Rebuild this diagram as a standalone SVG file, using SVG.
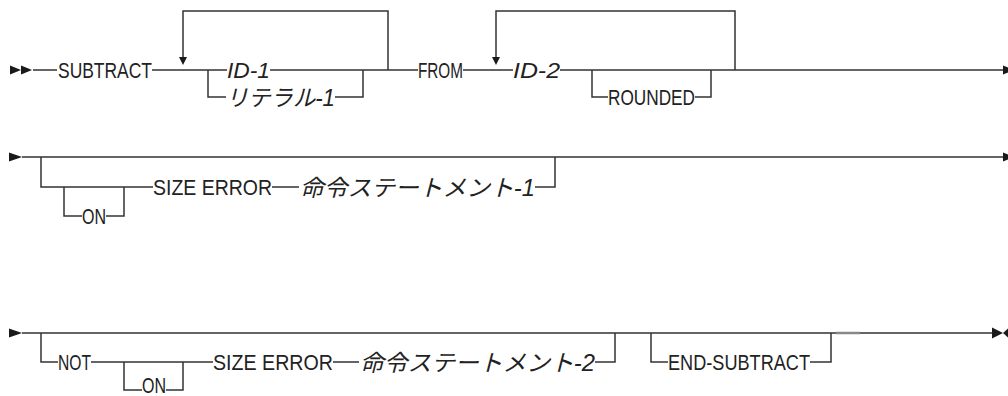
<svg xmlns="http://www.w3.org/2000/svg" width="1008" height="396" viewBox="0 0 1008 396">
<style>
.c{fill:none;stroke:#333;stroke-width:1.5}
.a{fill:#1a1a1a;stroke:none}
.t{font-family:"Liberation Sans","Noto Sans CJK JP",sans-serif;font-size:22.5px;fill:#222}
.i{font-style:italic}
.j{font-family:"Liberation Sans","Noto Sans CJK JP",sans-serif;font-size:23px;font-style:italic;fill:#222}
</style>
<rect width="1008" height="396" fill="#fff"/>
<g id="connectors">
<path class="c" d="M33 70H57M152 70H227M270 70H418M208 70V97H226M335 97H363V70M388 70V11H183V58M463 70H513M560 70H1004M592 70V97H608M695 97H711V70M735 70V11H496V58"/>
<path class="c" d="M22 157H1004M41 157V187H153M64 187V216H82M106 216H124V187M272 187H299M535 187H555V157"/>
<path class="c" d="M22 333H993M41 333V362H58M91 362H213M124 362V390H142M166 390H183V362M333 362H359M595 362H615V333M651 333V362H668M810 362H831V333"/>
<path d="M836 333H860" fill="none" stroke="#888" stroke-width="2.5"/>
<polygon class="a" points="10,65.5 21,70 10,74.5"/>
<polygon class="a" points="21,65.5 32,70 21,74.5"/>
<polygon class="a" points="179,57 187,57 183,65"/>
<polygon class="a" points="492,57 500,57 496,65"/>
<polygon class="a" points="1003,65.5 1014,70 1003,74.5"/>
<polygon class="a" points="9,152.5 22,157 9,161.5"/>
<polygon class="a" points="1003,152.5 1014,157 1003,161.5"/>
<polygon class="a" points="9,328.5 22,333 9,337.5"/>
<polygon class="a" points="992,327.5 1003,333 992,338.5"/>
<polygon class="a" points="1008,328.5 1003,333 1008,337.5"/>
</g>
<g id="subtract"><text class="t" x="58" y="78" textLength="94" lengthAdjust="spacingAndGlyphs">SUBTRACT</text></g>
<g id="id1"><text class="t i" x="227" y="78" textLength="43" lengthAdjust="spacingAndGlyphs">ID-1</text></g>
<g id="literal1"><text class="j" x="226" y="105.5" textLength="109" lengthAdjust="spacingAndGlyphs">リテラル-1</text></g>
<g id="from"><text class="t" x="418" y="78" textLength="45" lengthAdjust="spacingAndGlyphs">FROM</text></g>
<g id="id2"><text class="t i" x="513" y="78" textLength="47" lengthAdjust="spacingAndGlyphs">ID-2</text></g>
<g id="rounded"><text class="t" x="608" y="105" textLength="87" lengthAdjust="spacingAndGlyphs">ROUNDED</text></g>
<g id="on1"><text class="t" x="82" y="224" textLength="24" lengthAdjust="spacingAndGlyphs">ON</text></g>
<g id="sizeerror1"><text class="t" x="153" y="195" textLength="119" lengthAdjust="spacingAndGlyphs">SIZE ERROR</text></g>
<g id="stmt1"><text class="j" x="300" y="195.5" textLength="235" lengthAdjust="spacingAndGlyphs">命令ステートメント-1</text></g>
<g id="not"><text class="t" x="58" y="370" textLength="33" lengthAdjust="spacingAndGlyphs">NOT</text></g>
<g id="on2"><text class="t" x="142" y="393" textLength="24" lengthAdjust="spacingAndGlyphs">ON</text></g>
<g id="sizeerror2"><text class="t" x="213" y="370" textLength="120" lengthAdjust="spacingAndGlyphs">SIZE ERROR</text></g>
<g id="stmt2"><text class="j" x="360" y="370.5" textLength="235" lengthAdjust="spacingAndGlyphs">命令ステートメント-2</text></g>
<g id="endsubtract"><text class="t" x="668" y="370" textLength="142" lengthAdjust="spacingAndGlyphs">END-SUBTRACT</text></g>
</svg>
